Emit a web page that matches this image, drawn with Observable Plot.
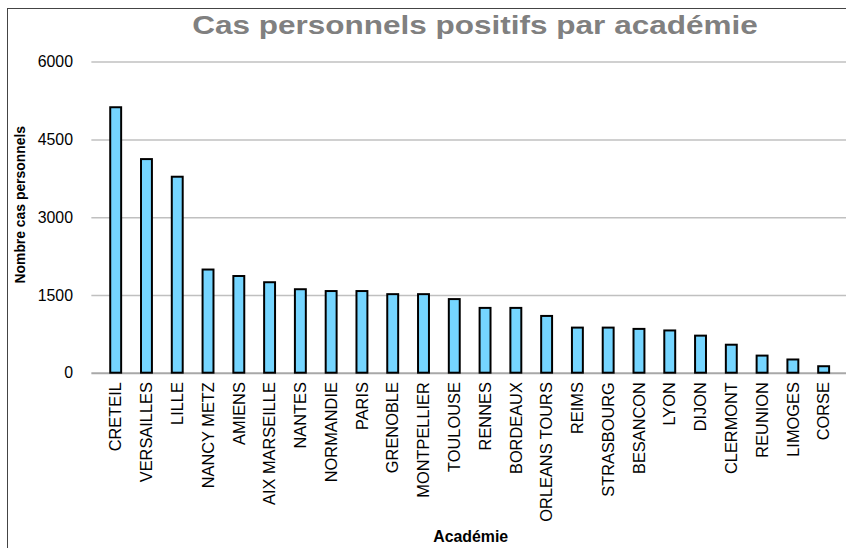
<!DOCTYPE html>
<html>
<head>
<meta charset="utf-8">
<script src="https://cdn.jsdelivr.net/npm/d3@7"></script>
<script src="https://cdn.jsdelivr.net/npm/@observablehq/plot@0.6"></script>
<style>
  html, body { margin: 0; padding: 0; width: 846px; height: 548px; overflow: hidden; background: #fff; }
  #wrap { position: relative; width: 846px; height: 548px; overflow: hidden; font-family: "Liberation Sans", Arial, sans-serif; }
  #frame { position: absolute; left: 7px; top: 8px; width: 900px; height: 600px; border: 1.5px solid #444; box-sizing: border-box; pointer-events: none; }
  #title { position: absolute; left: 0; top: 0; width: 846px; height: 50px; }
  #title span { position: absolute; left: 475px; top: 10px; transform: translateX(-50%) scaleX(1.26); transform-origin: center; white-space: nowrap;
    font-size: 25px; font-weight: bold; color: #808080; line-height: 30px; }
  #chart { position: absolute; left: 0; top: 50px; }
</style>
</head>
<body>
<div id="wrap">
  <div id="title"><span>Cas personnels positifs par académie</span></div>
  <div id="chart"></div>
  <div id="frame"></div>
</div>
<script>
const academies = ["CRETEIL","VERSAILLES","LILLE","NANCY METZ","AMIENS","AIX MARSEILLE","NANTES","NORMANDIE","PARIS","GRENOBLE","MONTPELLIER","TOULOUSE","RENNES","BORDEAUX","ORLEANS TOURS","REIMS","STRASBOURG","BESANCON","LYON","DIJON","CLERMONT","REUNION","LIMOGES","CORSE"];
const cas = [5120,4120,3780,1990,1865,1745,1610,1575,1575,1515,1515,1420,1250,1250,1095,870,870,845,815,715,540,330,255,125];
const yTicks = [0,1500,3000,4500,6000];
const yTitle = "Nombre cas personnels";
const xTitle = "Académie";

const data = academies.map((a, i) => ({academie: a, cas: cas[i]}));

const chart = Plot.plot({
  width: 852,
  height: 498,
  marginLeft: 95,
  marginRight: 0,
  marginTop: 11.7,
  marginBottom: 173,
  style: {fontFamily: "'Liberation Sans', Arial, sans-serif", fontSize: "16px", color: "#000", background: "transparent"},
  x: {domain: academies, paddingInner: 0.635, paddingOuter: 0.325, label: null},
  y: {domain: [0, 6000], label: null},
  marks: [
    Plot.ruleY(yTicks.filter(d => d > 0), {stroke: "#c0c0c0", strokeWidth: 1.5, insetLeft: -3}),
    Plot.ruleY([0], {stroke: "#a8a8a8", strokeWidth: 2, insetLeft: -3}),
    Plot.barY(data, {x: "academie", y: "cas", fill: "#75d5ff", stroke: "#000", strokeWidth: 2}),
    Plot.axisY({ticks: yTicks, tickSize: 0, tickPadding: 22, label: null, fontSize: 16, tickFormat: d => String(d)}),
    Plot.axisX({tickSize: 0, tickPadding: 9, tickRotate: -90, label: null, fontSize: 16.5}),
    Plot.text([yTitle], {frameAnchor: "left", text: d => d, rotate: -90, dx: -75, dy: -13, fontWeight: "bold", fontSize: 14, textAnchor: "middle", fill: "#000"}),
    Plot.text([xTitle], {frameAnchor: "bottom", text: d => d, dx: 0, dy: 165, lineAnchor: "middle", fontWeight: "bold", fontSize: 16, fill: "#000"})
  ]
});
document.getElementById("chart").appendChild(chart);
</script>
</body>
</html>
